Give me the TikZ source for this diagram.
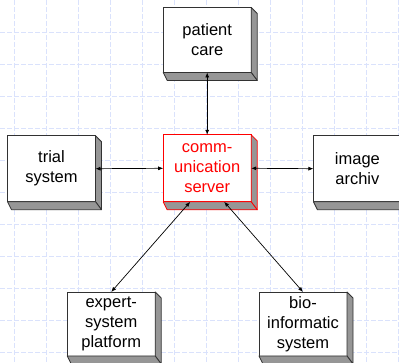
\documentclass[tikz,border=0pt]{standalone}
\usepackage{fontspec}
\setmainfont{Liberation Sans}
\usetikzlibrary{arrows.meta,calc}
\definecolor{gridblue}{RGB}{218,226,252}
\definecolor{sidegray}{RGB}{150,150,150}
\definecolor{edge}{RGB}{50,50,50}
\tikzset{
  box/.style={draw=edge, fill=white, line width=0.8pt, rectangle, outer sep=0pt, inner sep=0pt,
    minimum width=88pt, minimum height=66pt, align=center, font=\fontsize{16.5}{20}\selectfont},
  redbox/.style={box, draw=red, text=red},
  gridline/.style={gridblue, line width=0.6pt, dash pattern=on 5pt off 2pt},
  conn/.style={line width=0.7pt, {Latex[length=5pt,width=4pt]}-{Latex[length=5pt,width=4pt]}},
  sideface/.style={fill=sidegray, draw=edge, line width=0.8pt, line join=round},
}
\newcommand\extrude[2]{%
  \filldraw[sideface, draw=#2] (#1.north east) -- ++(6,6) -- ($(#1.south east)+(6,8)$) -- (#1.south east) -- cycle;
  \filldraw[sideface, draw=#2] (#1.south west) -- ++(4,8) -- ($(#1.south east)+(6,8)$) -- (#1.south east) -- cycle;
}
\begin{document}
\begin{tikzpicture}[x=1pt,y=-1pt]
\useasboundingbox (0,0) rectangle (399,363);
\begin{scope}
\clip (0,0) rectangle (399,363);
\foreach \i in {0,...,12} \draw[gridline] (14.3+32*\i,0) -- (14.3+32*\i,363);
\foreach \j in {1,...,11} \draw[gridline] (0,32*\j) -- (399,32*\j);

\node[box, minimum height=65pt] (patient) at (207.2,40) {patient\\care};
\node[redbox, minimum height=67pt] (center) at (207.2,168.3) {comm-\\unication\\server};
\node[box] (trial) at (51.5,168.7) {trial\\system};
\node[box] (image) at (357.4,168.7) {image\\archiv};
\node[box, minimum height=64pt] (expert) at (111.2,324) {expert-\\system\\platform};
\node[box, minimum height=64pt] (bio) at (303,324) {bio-\\informatic\\system};

\extrude{patient}{edge}
\extrude{center}{red}
\extrude{trial}{edge}
\extrude{image}{edge}
\extrude{expert}{edge}
\extrude{bio}{edge}

\coordinate (cl) at ($(center.south)+(-17,0)$);
\coordinate (cr) at ($(center.south)+(17,0)$);

\draw[conn] (patient.south) -- (center.north);
\draw[conn] (trial.east) -- (center.west);
\draw[conn] (image.west) -- (center.east);
\draw[conn] (cl) -- (expert.north);
\draw[conn] (cr) -- (bio.north);
\end{scope}
\end{tikzpicture}
\end{document}
